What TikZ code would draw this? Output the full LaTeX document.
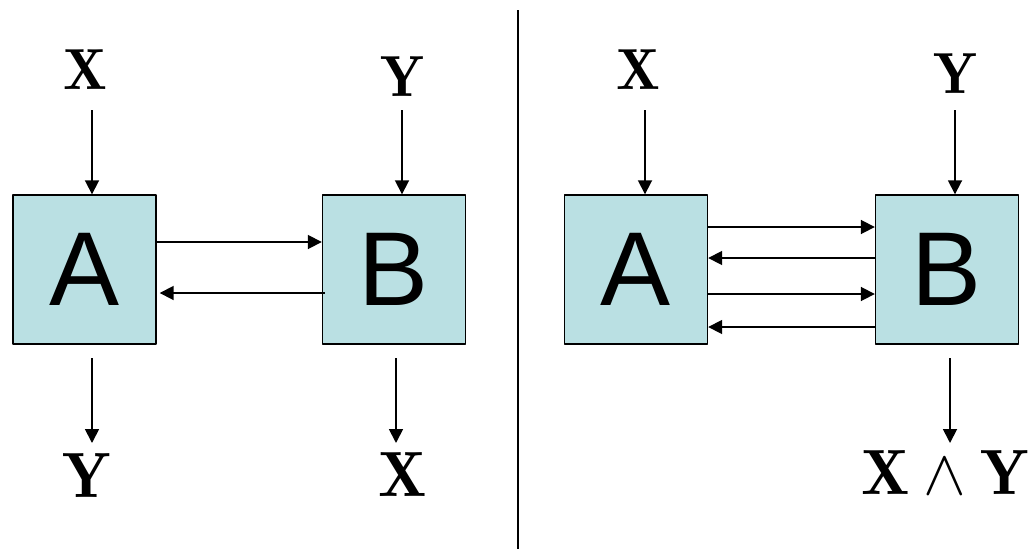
\RequirePackage{fix-cm}
\documentclass[tikz,border=0pt]{standalone}
\usepackage{fontspec}
\setsansfont{Liberation Sans}
\usepackage{tikz}
\usetikzlibrary{arrows.meta}
\definecolor{bbeeff}{rgb}{0.73,0.88,0.89}
\tikzset{
  box/.style={draw=black,line width=1.4pt,fill=bbeeff,minimum width=143pt,minimum height=149pt,inner sep=0pt,font=\sffamily\fontsize{105}{105}\selectfont},
  lbl/.style={inner sep=0pt,font=\fontsize{58}{58}\selectfont},
  lblb/.style={inner sep=0pt,font=\fontsize{64}{64}\selectfont},
  arr/.style={line width=1.8pt,-{Triangle[length=14pt,width=14pt]}}
}
\begin{document}
\begin{tikzpicture}[x=1pt,y=-1pt,line cap=butt,line join=round]
\useasboundingbox (0,0) rectangle (1028,549);
% left side
\node[box] (lA) at (84.5,269.5) {A};
\node[box] (lB) at (394,269.5) {B};
\node[lbl] (lXin) at (85,70) {$\mathbf{X}$};
\node[lbl] (lYin) at (402,77) {$\mathbf{Y}$};
\node[lblb] (lYout) at (87,476) {$\mathbf{Y}$};
\node[lblb] (lXout) at (403,475) {$\mathbf{X}$};
\coordinate (lXs) at (92,110);
\coordinate (lYs) at (402,110);
\coordinate (lAs) at (92,358);
\coordinate (lBs) at (396,358);
\draw[arr] (lXs) -- (lXs |- lA.north);
\draw[arr] (lYs) -- (lYs |- lB.north);
\draw[arr] (lAs) -- ++(0,85);
\draw[arr] (lBs) -- ++(0,85);
\draw[arr] ([yshift=27.5pt]lA.east) -- ([yshift=27.5pt]lB.west);
\draw[arr,shorten >=3pt] ([yshift=-23.5pt,xshift=3pt]lB.west) -- ([yshift=-23.5pt]lA.east);
% divider
\coordinate (top) at (518,10);
\coordinate (bot) at (518,549);
\draw[line width=1.4pt] (top) -- (bot);
% right side
\node[box] (rA) at (636,269.5) {A};
\node[box] (rB) at (947,269.5) {B};
\node[lbl] (rXin) at (638,70) {$\mathbf{X}$};
\node[lbl] (rYin) at (955,74) {$\mathbf{Y}$};
\node[lblb] (rout) at (945,473) {$\mathbf{X}\wedge\mathbf{Y}$};
\coordinate (rXs) at (645,110);
\coordinate (rYs) at (955,110);
\coordinate (rBs) at (950,358);
\draw[arr] (rXs) -- (rXs |- rA.north);
\draw[arr] (rYs) -- (rYs |- rB.north);
\draw[arr] (rBs) -- ++(0,85);
\foreach \dy/\dir in {42.5/1,11.5/0,-24.5/1,-57.5/0}{
  \ifnum\dir=1
    \draw[arr] ([yshift=\dy pt]rA.east) -- ([yshift=\dy pt]rB.west);
  \else
    \draw[arr] ([yshift=\dy pt]rB.west) -- ([yshift=\dy pt]rA.east);
  \fi
}
\end{tikzpicture}
\end{document}
